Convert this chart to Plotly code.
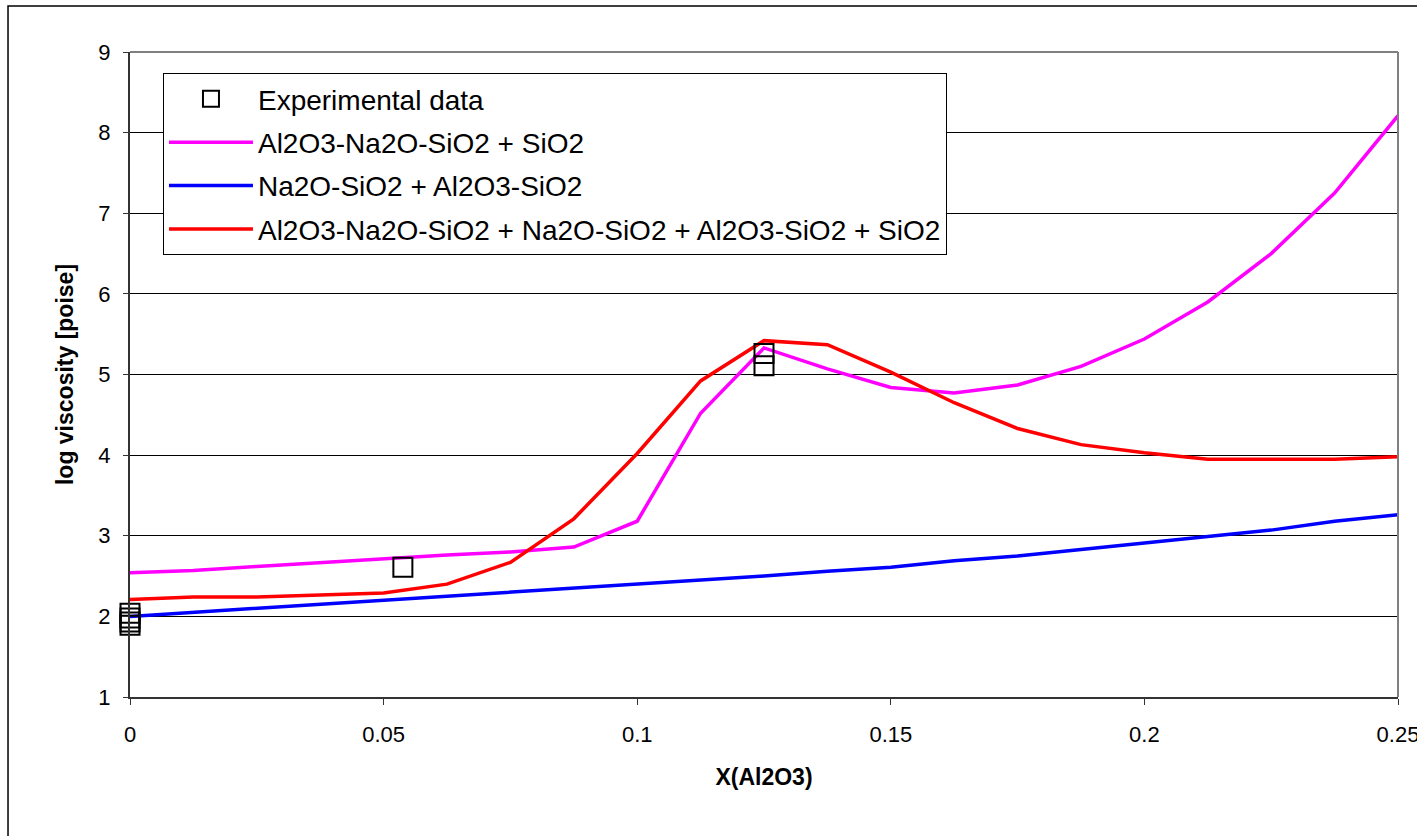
import plotly.graph_objects as go

# ---- data ----
x_model = [0, 0.0125, 0.025, 0.0375, 0.05, 0.0625, 0.075, 0.0875, 0.1, 0.1125, 0.125,
           0.1375, 0.15, 0.1625, 0.175, 0.1875, 0.2, 0.2125, 0.225, 0.2375, 0.25]
y_magenta = [2.54, 2.57, 2.62, 2.67, 2.72, 2.76, 2.80, 2.86, 3.18, 4.52, 5.33,
             5.07, 4.84, 4.77, 4.87, 5.10, 5.44, 5.90, 6.50, 7.25, 8.21]
y_blue = [2.00, 2.05, 2.10, 2.14, 2.19, 2.24, 2.29, 2.35, 2.40, 2.45, 2.50,
          2.56, 2.61, 2.69, 2.75, 2.83, 2.91, 2.99, 3.07, 3.18, 3.26]
y_red = [2.21, 2.24, 2.24, 2.26, 2.29, 2.40, 2.67, 3.21, 4.02, 4.92, 5.42,
         5.37, 5.03, 4.65, 4.33, 4.13, 4.03, 3.95, 3.95, 3.95, 3.98]
x_exp = [0, 0, 0, 0, 0.0538, 0.125, 0.125]
y_exp = [2.04, 1.98, 1.93, 1.89, 2.61, 5.26, 5.11]

names = ["Experimental data",
         "Al2O3-Na2O-SiO2 + SiO2",
         "Na2O-SiO2 + Al2O3-SiO2",
         "Al2O3-Na2O-SiO2 + Na2O-SiO2 + Al2O3-SiO2 + SiO2"]
x_ticks = [0, 0.05, 0.1, 0.15, 0.2, 0.25]
x_tick_text = ["0", "0.05", "0.1", "0.15", "0.2", "0.25"]
y_ticks = [1, 2, 3, 4, 5, 6, 7, 8, 9]

FONT = "Liberation Sans, Arial, sans-serif"

fig = go.Figure()
fig.add_trace(go.Scatter(x=x_model, y=y_magenta, mode="lines", name=names[1],
                         line=dict(color="#FF00FF", width=3.5), legendrank=2, legendgroup="g2"))
fig.add_trace(go.Scatter(x=x_model, y=y_blue, mode="lines", name=names[2],
                         line=dict(color="#0000FF", width=3.5), legendrank=3, legendgroup="g3"))
fig.add_trace(go.Scatter(x=x_model, y=y_red, mode="lines", name=names[3],
                         line=dict(color="#FF0000", width=3.5), legendrank=4, legendgroup="g4"))
fig.add_trace(go.Scatter(x=x_exp, y=y_exp, mode="markers", name=names[0],
                         marker=dict(symbol="square-open", size=19, color="black",
                                     line=dict(color="black", width=2)),
                         legendrank=1, legendgroup="g1", cliponaxis=False))

fig.update_layout(
    width=1417, height=836,
    margin=dict(l=130, r=19, t=52, b=139, autoexpand=False),
    paper_bgcolor="white", plot_bgcolor="white",
    font=dict(family=FONT, size=22, color="black"),
    showlegend=True,
    legend=dict(x=0.026, y=0.9674, xanchor="left", yanchor="top",
                bgcolor="white", bordercolor="black", borderwidth=1,
                font=dict(family=FONT, size=28, color="black"),
                traceorder="grouped", tracegroupgap=4,
                itemwidth=84),
    xaxis=dict(range=[0, 0.25], tickvals=x_ticks, ticktext=x_tick_text,
               showgrid=False, zeroline=False, automargin=False,
               showline=True, linecolor="#333333", linewidth=2,
               ticks="outside", ticklen=6, tickcolor="#333333", tickwidth=1,
               ticklabelstandoff=11, ticklabeloverflow="allow",
               title=dict(text="<b>X(Al2O3)</b>", font=dict(size=23), standoff=22)),
    yaxis=dict(range=[1, 9], tickvals=y_ticks, automargin=False,
               showgrid=True, gridcolor="black", gridwidth=1, zeroline=False,
               showline=True, linecolor="#333333", linewidth=2,
               ticks="outside", ticklen=5, tickcolor="#333333", tickwidth=1,
               ticklabelstandoff=8,
               title=dict(text="<b>log viscosity [poise]</b>", font=dict(size=23), standoff=18)),
)

# plot-area border (gray, top and right)
fig.add_shape(type="line", xref="paper", yref="paper", x0=0, x1=1, y0=1, y1=1,
              line=dict(color="#808080", width=2), layer="above")
fig.add_shape(type="line", xref="paper", yref="paper", x0=1, x1=1, y0=0, y1=1,
              line=dict(color="#808080", width=2), layer="above")
# outer chart border
fig.add_shape(type="rect", xref="paper", yref="paper",
              x0=-0.0962, x1=1.2, y0=-0.5, y1=1.0713,
              line=dict(color="black", width=1.5), layer="below")

fig.write_html("out.html")
